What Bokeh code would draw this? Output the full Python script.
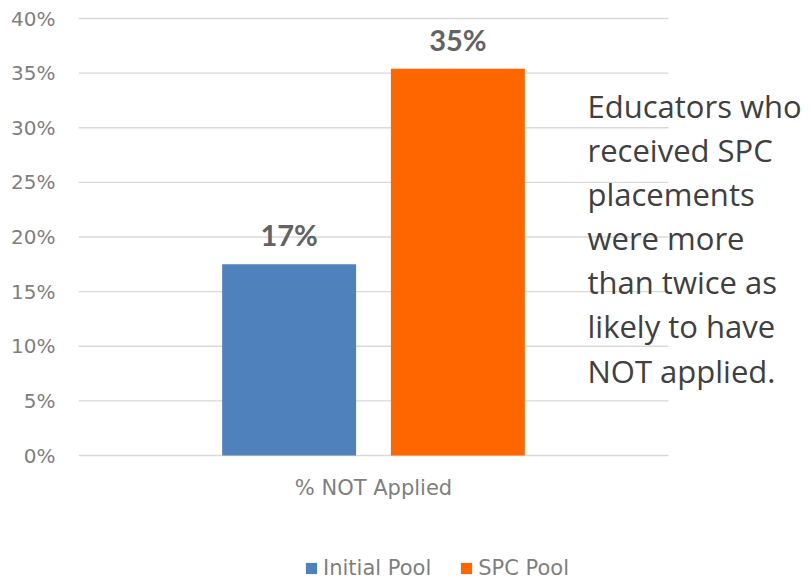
from bokeh.plotting import figure
from bokeh.models import (Range1d, ColumnDataSource, FixedTicker,
                          NumeralTickFormatter, Legend, LegendItem, Label, LabelSet)
from bokeh.transform import dodge
from bokeh.embed import file_html
from bokeh.resources import INLINE
from bokeh.core.properties import value

# ---- data ----
category = ["% NOT Applied"]
series = ["Initial Pool", "SPC Pool"]
values = [0.175, 0.354]
value_labels = ["17%", "35%"]
colors = ["#4F81BD", "#FF6600"]
y_ticks = [0, 0.05, 0.10, 0.15, 0.20, 0.25, 0.30, 0.35, 0.40]
note_lines = ["Educators who", "received SPC", "placements", "were more",
              "than twice as", "likely to have", "NOT applied."]

AXIS_FONT = "DejaVu Sans"
AXIS_COLOR = "#7F7F7F"

# category slots: each category occupies one unit [i, i+1]; centre at i + 0.5
cat_centres = [i + 0.5 for i in range(len(category))]
n_cat = len(category)

# frame covers the whole canvas right of the y axis; the category band [0, n_cat]
# maps to 590 px, the rest is room for the note and legend
PX_PER_X = 590.0
PX_PER_Y = 437.0 / 0.40
FRAME_W = 811 - 78
x_end = FRAME_W / PX_PER_X
y_start = -127.0 / PX_PER_Y
y_end = 0.40 + 18.0 / PX_PER_Y

p = figure(width=811, height=582, title=None,
           x_range=Range1d(0, x_end), y_range=Range1d(y_start, y_end),
           output_backend="svg", toolbar_location=None,
           min_border_left=78, min_border_right=0,
           min_border_top=0, min_border_bottom=0)

p.outline_line_color = None
p.background_fill_color = "white"
p.border_fill_color = "white"
p.xgrid.visible = False
p.ygrid.visible = False

# horizontal gridlines across the category band
p.segment(x0=0, x1=n_cat, y0=y_ticks, y1=y_ticks, line_color="#D9D9D9", line_width=1.3)

offsets = [-0.143, 0.143]
items = []
for i in range(len(series)):
    src = ColumnDataSource(dict(x=cat_centres, top=[values[i]], label=[value_labels[i]]))
    xs = dodge("x", offsets[i])
    r = p.vbar(x=xs, top="top", width=0.227, source=src,
               fill_color=colors[i], line_color=None)
    p.add_layout(LabelSet(x=xs, y="top", text="label", source=src,
                          y_offset=18, text_align="center", text_baseline="alphabetic",
                          text_font=value("Lato"), text_font_style="bold",
                          text_font_size=value("29px"), text_color="#636363"))
    items.append(LegendItem(label=series[i], renderers=[r]))

# axes
p.yaxis.ticker = FixedTicker(ticks=y_ticks)
p.yaxis.formatter = NumeralTickFormatter(format="0%")
p.xaxis.ticker = FixedTicker(ticks=cat_centres)
p.xaxis.major_label_overrides = {c: name for c, name in zip(cat_centres, category)}
p.xaxis.fixed_location = 0
for ax in (p.xaxis[0], p.yaxis[0]):
    ax.axis_line_color = None
    ax.major_tick_line_color = None
    ax.minor_tick_line_color = None
    ax.major_tick_out = 0
    ax.major_tick_in = 0
    ax.minor_tick_out = 0
    ax.minor_tick_in = 0
    ax.major_label_text_font = AXIS_FONT
    ax.major_label_text_color = AXIS_COLOR
p.yaxis.major_label_text_font_size = "20px"
p.yaxis.major_label_standoff = 23
p.xaxis.major_label_text_font_size = "21px"
p.xaxis.major_label_standoff = 20

# annotation text on the right
for i, line in enumerate(note_lines):
    p.add_layout(Label(x=0.8627, y=0.3197 - i * 0.04032, text=line,
                       text_font="Open Sans", text_font_size="31px",
                       text_color="#404040", text_baseline="alphabetic"))

legend = Legend(items=items, orientation="horizontal", location=(226, 2),
                glyph_width=14, glyph_height=14, label_standoff=5, spacing=28,
                padding=0, margin=0, border_line_color=None,
                background_fill_alpha=0,
                label_text_font=AXIS_FONT, label_text_font_size="21px",
                label_text_color=AXIS_COLOR)
p.add_layout(legend)

open("out.html", "w").write(file_html(p, INLINE))
